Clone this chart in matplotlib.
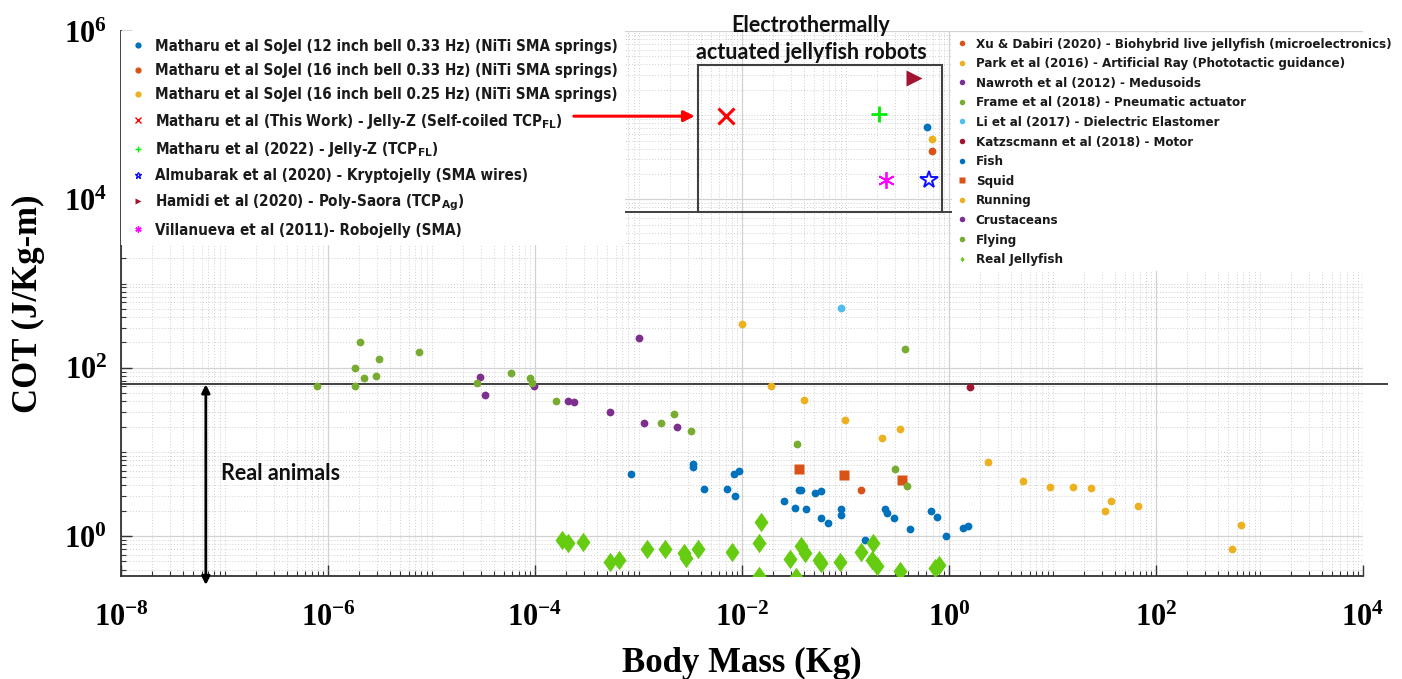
import numpy as np
import matplotlib
matplotlib.use('Agg')
import matplotlib.pyplot as plt
from matplotlib import font_manager
from matplotlib.patches import Rectangle
from matplotlib.ticker import LogLocator, NullFormatter

# pick a narrow sans for the legends if there is one
narrow_family, narrow_stretch = 'Roboto', 'normal'
for f in font_manager.fontManager.ttflist:
    if 'Narrow' in f.name or 'Condensed' in f.name or f.stretch in ('condensed', 'semi-condensed'):
        narrow_family, narrow_stretch = f.name, f.stretch
        break

plt.rcParams['mathtext.fontset'] = 'custom'
plt.rcParams['mathtext.rm'] = narrow_family + ':bold'
plt.rcParams['mathtext.bf'] = 'Liberation Serif:bold'
plt.rcParams['mathtext.default'] = 'rm'

# ---- data (mass in kg, COT in J/kg-m) ----
# electrothermal jellyfish robots (inside the box)
sojel12_mass, sojel12_cot = [0.607], [7.2e4]
sojel16_033_mass, sojel16_033_cot = [0.686], [3.74e4]
sojel16_025_mass, sojel16_025_cot = [0.686], [5.19e4]
thiswork_mass, thiswork_cot = [7.0e-3], [9.73e4]
jellyz_mass, jellyz_cot = [0.213], [1.03e5]
kryptojelly_mass, kryptojelly_cot = [0.641], [1.69e4]
polysaora_mass, polysaora_cot = [0.459], [2.75e5]
robojelly_mass, robojelly_cot = [0.246], [1.69e4]

# other robots
xu_mass, xu_cot = [0.141], [3.52]
park_mass, park_cot = [0.01], [332]
nawroth_mass, nawroth_cot = [1.01e-3], [226]
frame_mass, frame_cot = [0.379], [169]
li_mass, li_cot = [0.0906], [510]
katz_mass, katz_cot = [1.60], [59.3]

# animals
fish_mass = [8.5e-4, 3.34e-3, 3.39e-3, 4.27e-3, 7.1e-3, 8.55e-3, 8.4e-3, 9.4e-3,
             0.0255, 0.0325, 0.0356, 0.0374, 0.0412, 0.0507, 0.0575, 0.0575,
             0.0678, 0.090, 0.090, 0.154, 0.241, 0.25, 0.297, 0.42, 0.67, 0.76,
             0.935, 1.37, 1.51]
fish_cot = [5.4, 6.65, 7.2, 3.65, 3.65, 2.99, 5.45, 5.9, 2.63, 2.17, 3.52, 3.52,
            2.08, 3.21, 3.4, 1.64, 1.42, 2.11, 1.79, 0.896, 2.08, 1.86, 1.64,
            1.2, 1.96, 1.69, 0.99, 1.23, 1.31]
squid_mass = [0.0356, 0.0973, 0.354]
squid_cot = [6.25, 5.35, 4.59]
running_mass = [0.0192, 0.040, 0.0993, 0.223, 0.339, 2.38, 5.19, 9.46, 15.9,
                23.3, 37, 32, 67.5, 656, 546]
running_cot = [60, 40.9, 24, 14.8, 18.5, 7.5, 4.46, 3.82, 3.82, 3.75, 2.6, 1.98,
               2.29, 1.34, 0.70]
crust_mass = [2.97e-5, 3.32e-5, 9.8e-5, 2.09e-4, 2.40e-4, 5.35e-4, 1.14e-3, 2.38e-3]
crust_cot = [78, 46.9, 61, 39.8, 39, 29.4, 21.8, 19.5]
flying_mass = [7.9e-7, 1.82e-6, 1.82e-6, 2.06e-6, 2.21e-6, 2.90e-6, 3.08e-6,
               7.6e-6, 2.77e-5, 5.87e-5, 8.85e-5, 9.3e-5, 1.59e-4, 1.66e-3,
               2.18e-3, 3.2e-3, 0.0338, 0.30, 0.393]
flying_cot = [60.5, 98, 60.5, 203, 75.9, 78.8, 126.5, 152, 65.1, 85.5, 75.9,
              66.2, 40.4, 21.8, 28.1, 17.5, 12.5, 6.2, 3.96]
jelly_mass = [1.81e-4, 2.09e-4, 2.94e-4, 5.31e-4, 6.5e-4, 1.2e-3, 1.82e-3,
              2.75e-3, 2.88e-3, 3.73e-3, 8.0e-3, 0.0154, 0.0147, 0.0147, 0.0291,
              0.0333, 0.0372, 0.0404, 0.0551, 0.0575, 0.0885, 0.141, 0.186,
              0.179, 0.2, 0.337, 0.733, 0.805]
jelly_cot = [0.896, 0.82, 0.842, 0.495, 0.519, 0.695, 0.695, 0.623, 0.543,
             0.695, 0.651, 1.455, 0.833, 0.338, 0.529, 0.329, 0.767, 0.623,
             0.519, 0.474, 0.487, 0.651, 0.82, 0.519, 0.44, 0.384, 0.413, 0.453]

x_tick_exps = [-8, -6, -4, -2, 0, 2, 4]
y_tick_exps = [0, 2, 4, 6]

animal_line = 63.4          # horizontal separator
box_x = (3.72e-3, 0.855)    # robot box
box_y = (7.05e3, 3.93e5)

# matlab default colours
c_blue, c_orange, c_yellow = '#0072BD', '#D95319', '#EDB120'
c_purple, c_green, c_cyan, c_dred = '#7E2F8E', '#77AC30', '#4DBEEE', '#A2142F'
c_jelly = '#66CC11'

fig = plt.figure(figsize=(14.02, 6.79), dpi=100)
ax = fig.add_axes([121/1402, 1-576/679, 1242/1402, 545/679])
ax.set_xscale('log')
ax.set_yscale('log')
ax.set_xlim(1e-8, 1e4)
ax.set_ylim(0.335, 1e6)


def fit_size(text, target_px, size=10):
    # font size that makes the legend text as wide as in the picture
    t = fig.text(0, 0, text, fontfamily=narrow_family, fontstretch=narrow_stretch,
                 fontweight='bold', fontsize=size)
    w = t.get_window_extent(renderer=fig.canvas.get_renderer()).width
    t.remove()
    return size * target_px / w


dot = dict(ls='none', marker='o', ms=5.6, mec='none', zorder=3)
left_lines = [
    ax.plot(sojel12_mass, sojel12_cot, color=c_blue, **dot)[0],
    ax.plot(sojel16_033_mass, sojel16_033_cot, color=c_orange, **dot)[0],
    ax.plot(sojel16_025_mass, sojel16_025_cot, color=c_yellow, **dot)[0],
    ax.plot(thiswork_mass, thiswork_cot, ls='none', marker='x', ms=11, mew=2.2, color='#FF0000', zorder=3)[0],
    ax.plot(jellyz_mass, jellyz_cot, ls='none', marker='+', ms=12, mew=2, color='#00EE00', zorder=3)[0],
    ax.plot(kryptojelly_mass, kryptojelly_cot, ls='none', marker='*', ms=13, mew=1.4, mfc='none', color='#1010FF', zorder=3)[0],
    ax.plot(polysaora_mass, polysaora_cot, ls='none', marker='>', ms=11, mec='none', color=c_dred, zorder=3)[0],
    ax.plot(robojelly_mass, robojelly_cot, ls='none', marker=(6, 2, 0), ms=12, mew=1.3, color='#FF00FF', zorder=3)[0],
]
left_labels = [
    'Matharu et al SoJel (12 inch bell 0.33 Hz) (NiTi SMA springs)',
    'Matharu et al SoJel (16 inch bell 0.33 Hz) (NiTi SMA springs)',
    'Matharu et al SoJel (16 inch bell 0.25 Hz) (NiTi SMA springs)',
    'Matharu et al (This Work) - Jelly-Z (Self-coiled TCP$_{FL}$)',
    'Matharu et al (2022) - Jelly-Z (TCP$_{FL}$)',
    'Almubarak et al (2020) - Kryptojelly (SMA wires)',
    'Hamidi et al (2020) - Poly-Saora (TCP$_{Ag}$)',
    'Villanueva et al (2011)- Robojelly (SMA)',
]

diamond = [(0, 1), (0.72, 0), (0, -1), (-0.72, 0), (0, 1)]
right_lines = [
    ax.plot(xu_mass, xu_cot, color=c_orange, **dot)[0],
    ax.plot(park_mass, park_cot, color=c_yellow, **dot)[0],
    ax.plot(nawroth_mass, nawroth_cot, color=c_purple, **dot)[0],
    ax.plot(frame_mass, frame_cot, color=c_green, **dot)[0],
    ax.plot(li_mass, li_cot, color=c_cyan, **dot)[0],
    ax.plot(katz_mass, katz_cot, color=c_dred, **dot)[0],
    ax.plot(fish_mass, fish_cot, color=c_blue, **dot)[0],
    ax.plot(squid_mass, squid_cot, ls='none', marker='s', ms=7.5, mec='none', color=c_orange, zorder=3)[0],
    ax.plot(running_mass, running_cot, color=c_yellow, **dot)[0],
    ax.plot(crust_mass, crust_cot, color=c_purple, **dot)[0],
    ax.plot(flying_mass, flying_cot, color=c_green, **dot)[0],
    ax.plot(jelly_mass, jelly_cot, ls='none', marker=diamond, ms=14, mec='none', color=c_jelly, zorder=3)[0],
]
right_labels = [
    'Xu & Dabiri (2020) - Biohybrid live jellyfish (microelectronics)',
    'Park et al (2016) - Artificial Ray (Phototactic guidance)',
    'Nawroth et al (2012) - Medusoids',
    'Frame et al (2018) - Pneumatic actuator',
    'Li et al (2017) - Dielectric Elastomer',
    'Katzscmann et al (2018) - Motor',
    'Fish', 'Squid', 'Running', 'Crustaceans', 'Flying', 'Real Jellyfish',
]

# separator line, robot box
ax.plot([1e-8, 1.7e4], [animal_line, animal_line], color='#404040', lw=1.4,
        zorder=2, clip_on=False)
ax.plot([1e-8, 1.07], [box_y[0], box_y[0]], color='#404040', lw=1.4, zorder=2)
ax.add_patch(Rectangle((box_x[0], box_y[0]), box_x[1]-box_x[0], box_y[1]-box_y[0],
                       fill=False, ec='#404040', lw=1.5, zorder=2))

# annotations
ax.annotate('', xy=(box_x[0], thiswork_cot[0]), xytext=(2.23e-4, thiswork_cot[0]),
            arrowprops=dict(arrowstyle='-|>', color='#FF0000', lw=2.2, mutation_scale=16),
            zorder=6)
ax.annotate('', xy=(6.6e-8, 0.262), xytext=(6.6e-8, animal_line),
            arrowprops=dict(arrowstyle='<|-|>', color='black', lw=2, mutation_scale=12,
                            shrinkA=0, shrinkB=0),
            annotation_clip=False, zorder=6)
ax.text(9.2e-8, 5.6, 'Real animals', fontfamily='Lato', fontweight='bold',
        fontsize=15.5, va='center', ha='left', color='#111111')
ax.text(0.0465, 0.985, 'Electrothermally\nactuated jellyfish robots',
        transform=ax.get_xaxis_transform(), fontfamily='Lato', fontweight='bold',
        fontsize=15.5, ha='center', va='center', linespacing=1.35, color='#111111',
        zorder=6)

# axes styling
ax.set_xticks([10.0**e for e in x_tick_exps],
              labels=[r'$\mathbf{10^{%d}}$' % e for e in x_tick_exps])
ax.set_yticks([10.0**e for e in y_tick_exps],
              labels=[r'$\mathbf{10^{%d}}$' % e for e in y_tick_exps])
for axis in (ax.xaxis, ax.yaxis):
    axis.set_minor_locator(LogLocator(base=10, subs=np.arange(1, 10), numticks=100))
    axis.set_minor_formatter(NullFormatter())
ax.tick_params(which='major', direction='in', length=8, width=1, color='#333333',
               labelsize=22)
ax.tick_params(which='minor', direction='in', length=3.6, width=0.8, color='#333333')
ax.tick_params(axis='x', which='major', pad=19)
ax.tick_params(axis='y', which='major', pad=10)
for s in ('top', 'right'):
    ax.spines[s].set_visible(False)
for s in ('left', 'bottom'):
    ax.spines[s].set_color('#333333')
    ax.spines[s].set_linewidth(1.3)
ax.set_axisbelow(True)
ax.grid(which='major', color='#d2d2d2', lw=0.9)
ax.grid(which='minor', color='#cfcfcf', lw=0.7, ls=(0, (1, 2)))

ax.set_xlabel('Body Mass (Kg)', fontfamily='Liberation Serif', fontweight='bold',
              fontsize=25, labelpad=11)
ax.set_ylabel('COT (J/Kg-m)', fontfamily='Liberation Serif', fontweight='bold',
              fontsize=25, labelpad=14)

# legends
left_size = fit_size(left_labels[0], 460)
right_size = fit_size(right_labels[0], 411)
leg_font = dict(family=narrow_family, stretch=narrow_stretch, weight='bold')

leg1 = ax.legend(left_lines, left_labels, loc='upper left', bbox_to_anchor=(0, 1),
                 borderaxespad=0, borderpad=0.5, handlelength=1.3, handletextpad=0.45,
                 labelspacing=0.62, frameon=True, fancybox=False, framealpha=1,
                 facecolor='white', edgecolor='none',
                 prop=dict(size=left_size, **leg_font))
for h in leg1.legend_handles:
    h.set_markersize(4.5)
    h.set_markeredgewidth(1.0)
for t in leg1.get_texts():
    t.set_color('#1a1a1a')
leg1.set_zorder(5)
ax.add_artist(leg1)

leg2 = ax.legend(right_lines, right_labels, loc='upper left',
                 bbox_to_anchor=((952-121)/1242, (576-33)/545),
                 borderaxespad=0, borderpad=0.35, handlelength=0.8, handletextpad=0.64,
                 labelspacing=0.5, frameon=True, fancybox=False, framealpha=1,
                 facecolor='white', edgecolor='none',
                 prop=dict(size=right_size, **leg_font))
for h in leg2.legend_handles:
    h.set_markersize(4)
for t in leg2.get_texts():
    t.set_color('#1a1a1a')
leg2.set_zorder(5)

fig.savefig('out.png', dpi=100)
